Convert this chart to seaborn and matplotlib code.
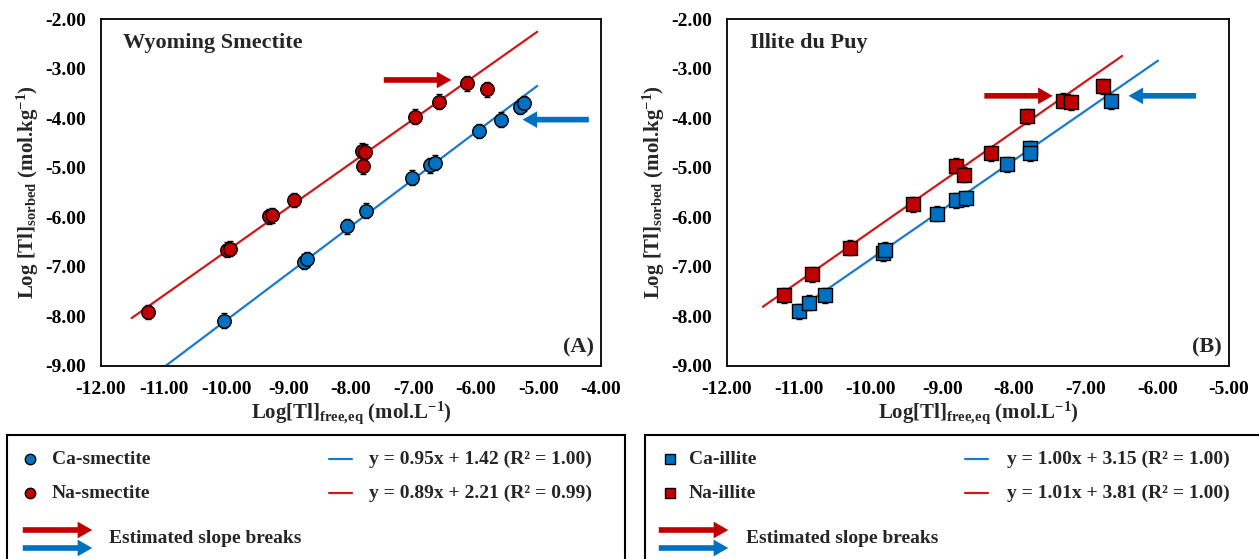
import matplotlib
matplotlib.use("Agg")
import matplotlib.pyplot as plt
import seaborn as sns
import pandas as pd

# values
ca_smec_x = [-10.03, -8.75, -8.70, -8.07, -7.76, -7.02, -6.73, -6.66, -5.95, -5.60, -5.30, -5.24]
ca_smec_y = [-8.09, -6.90, -6.85, -6.18, -5.87, -5.20, -4.95, -4.90, -4.26, -4.03, -3.77, -3.70]
na_smec_x = [-11.25, -9.98, -9.94, -9.31, -9.26, -8.91, -7.82, -7.78, -7.81, -6.97, -6.60, -6.14, -5.83]
na_smec_y = [-7.91, -6.65, -6.63, -5.98, -5.96, -5.65, -4.66, -4.68, -4.97, -3.97, -3.67, -3.30, -3.42]

ca_ill_x = [-10.99, -10.85, -10.63, -9.82, -9.80, -9.07, -8.81, -8.67, -8.09, -7.78, -7.78, -6.64]
ca_ill_y = [-7.90, -7.72, -7.57, -6.73, -6.65, -5.93, -5.66, -5.62, -4.93, -4.61, -4.71, -3.66]
na_ill_x = [-11.20, -10.82, -10.29, -9.41, -8.81, -8.70, -8.32, -7.81, -7.32, -7.21, -6.76]
na_ill_y = [-7.57, -7.15, -6.61, -5.74, -4.96, -5.14, -4.71, -3.96, -3.65, -3.68, -3.36]

y_err = 0.15

# fit lines: slope, intercept, x start, x end (from the legend equations)
fit_ca_smec = (0.95, 1.42, -11.5, -5.02)
fit_na_smec = (0.89, 2.21, -11.51, -5.02)
fit_ca_ill = (1.00, 3.15, -11.0, -5.99)
fit_na_ill = (1.01, 3.81, -11.5, -6.49)

# slope-break arrows: (x from, x to, y)
arrows_a = [((-7.52, -6.35, -3.23), "red"), ((-4.15, -5.30, -4.03), "blue")]
arrows_b = [((-8.45, -7.42, -3.55), "red"), ((-5.42, -6.44, -3.55), "blue")]

eq_smec = ["y = 0.95x + 1.42 (R\u00b2 = 1.00)", "y = 0.89x + 2.21 (R\u00b2 = 0.99)"]
eq_ill = ["y = 1.00x + 3.15 (R\u00b2 = 1.00)", "y = 1.01x + 3.81 (R\u00b2 = 1.00)"]

BLUE = "#0070C0"
RED = "#C00000"
LBLUE = "#1A7ACB"
LRED = "#D01818"
cols = {"red": RED, "blue": BLUE}

sns.set_theme(style="white")
plt.rcParams["font.family"] = ["Liberation Serif", "DejaVu Serif"]
plt.rcParams["font.weight"] = "bold"
plt.rcParams["mathtext.fontset"] = "custom"
plt.rcParams["mathtext.rm"] = "Liberation Serif:bold"
plt.rcParams["mathtext.it"] = "Liberation Serif:bold"
plt.rcParams["mathtext.bf"] = "Liberation Serif:bold"

W, H = 1259, 559
fig = plt.figure(figsize=(W / 100, H / 100), dpi=100)

ARROW = "simple,head_length=0.7,head_width=0.8,tail_width=0.27"


def px_axes(x0, x1, y0, y1):
    return fig.add_axes([x0 / W, 1 - y1 / H, (x1 - x0) / W, (y1 - y0) / H])


def draw_fit(ax, fit, color):
    m, b, xa, xb = fit
    d = pd.DataFrame({"x": [xa, xb], "y": [m * xa + b, m * xb + b]})
    sns.lineplot(data=d, x="x", y="y", ax=ax, color=color, lw=1.6, zorder=1)


def draw_pts(ax, xs, ys, color, marker, size):
    ax.errorbar(xs, ys, yerr=y_err, fmt="none", ecolor="black", elinewidth=1,
                capsize=2.5, capthick=1, zorder=2)
    sns.scatterplot(x=xs, y=ys, ax=ax, color=color, marker=marker, s=size,
                    edgecolor="black", linewidth=1, zorder=3)


def arrow(ax, x0, x1, y, color):
    ax.annotate("", xy=(x1, y), xytext=(x0, y),
                arrowprops=dict(arrowstyle=ARROW, color=color, lw=0, mutation_scale=15))


def style_axes(ax, xmin, xmax):
    ax.set_xlim(xmin, xmax)
    ax.set_ylim(-9, -2)
    xt = list(range(xmin, xmax + 1))
    ax.set_xticks(xt)
    ax.set_xticklabels([f"{v:.2f}" for v in xt])
    ax.set_yticks(range(-9, -1))
    ax.set_yticklabels([f"{v:.2f}" for v in range(-9, -1)])
    ax.tick_params(direction="in", length=5, width=1, labelsize=14, colors="black", pad=11)
    for lab in ax.get_xticklabels() + ax.get_yticklabels():
        lab.set_fontweight("bold")
    for s in ax.spines.values():
        s.set_color("black")
        s.set_linewidth(1.3)
    ax.set_xlabel(r"Log[Tl]$_{\mathrm{free{,}eq}}$ (mol.L$^{\mathrm{-1}}$)", fontsize=15,
                  fontweight="bold", labelpad=1)
    ax.set_ylabel(r"Log [Tl]$_{\mathrm{sorbed}}$ (mol.kg$^{\mathrm{-1}}$)", fontsize=15,
                  fontweight="bold", labelpad=3)


# ---- panel A ----
axA = px_axes(101, 601, 19, 366)
draw_fit(axA, fit_ca_smec, LBLUE)
draw_fit(axA, fit_na_smec, LRED)
draw_pts(axA, ca_smec_x, ca_smec_y, BLUE, "o", 95)
draw_pts(axA, na_smec_x, na_smec_y, RED, "o", 95)
for (x0, x1, y), c in arrows_a:
    arrow(axA, x0, x1, y, cols[c])
style_axes(axA, -12, -4)
axA.text(0.044, 0.93, "Wyoming Smectite", transform=axA.transAxes, fontsize=16,
         fontweight="bold", va="center")
axA.text(0.985, 0.025, "(A)", transform=axA.transAxes, fontsize=16,
         fontweight="bold", ha="right", va="bottom")

# ---- panel B ----
axB = px_axes(727, 1229, 19, 366)
draw_fit(axB, fit_ca_ill, LBLUE)
draw_fit(axB, fit_na_ill, LRED)
draw_pts(axB, ca_ill_x, ca_ill_y, BLUE, "s", 95)
draw_pts(axB, na_ill_x, na_ill_y, RED, "s", 95)
for (x0, x1, y), c in arrows_b:
    arrow(axB, x0, x1, y, cols[c])
style_axes(axB, -12, -5)
axB.text(0.046, 0.93, "Illite du Puy", transform=axB.transAxes, fontsize=16,
         fontweight="bold", va="center")
axB.text(0.985, 0.025, "(B)", transform=axB.transAxes, fontsize=16,
         fontweight="bold", ha="right", va="bottom")


# ---- legend boxes (drawn in pixel coordinates) ----
def legend_box(x0, x1, marker, names, eqs, mx, tx, lx, ex, ax_arrow, tx_arrow):
    lg = px_axes(x0, x1, 435, 566)
    lg.set_xlim(x0, x1)
    lg.set_ylim(566, 435)
    lg.set_xticks([])
    lg.set_yticks([])
    lg.set_facecolor("white")
    for s in lg.spines.values():
        s.set_color("black")
        s.set_linewidth(1.5)
    for yy, name, eq, c, lc in zip([459, 493], names, eqs, [BLUE, RED], [LBLUE, LRED]):
        lg.plot([mx], [yy], marker=marker, ms=7.5, color=c, mec="black", mew=1, ls="none")
        lg.text(tx, yy, name, fontsize=14, fontweight="bold", va="center")
        lg.plot([lx, lx + 23], [yy, yy], color=lc, lw=1.6)
        lg.text(ex, yy, eq, fontsize=14, fontweight="bold", va="center")
    for yy, c in [(530, RED), (548, BLUE)]:
        lg.annotate("", xy=(ax_arrow + 75, yy), xytext=(ax_arrow, yy),
                    arrowprops=dict(arrowstyle=ARROW, color=c, lw=0, mutation_scale=15))
    lg.text(tx_arrow, 538, "Estimated slope breaks", fontsize=14, fontweight="bold", va="center")


legend_box(7, 625, "o", ["Ca-smectite", "Na-smectite"], eq_smec, 30, 52, 329, 369, 20, 109)
legend_box(645, 1264, "s", ["Ca-illite", "Na-illite"], eq_ill, 670, 689, 965, 1007, 656, 746)

fig.savefig("out.png", dpi=100)
